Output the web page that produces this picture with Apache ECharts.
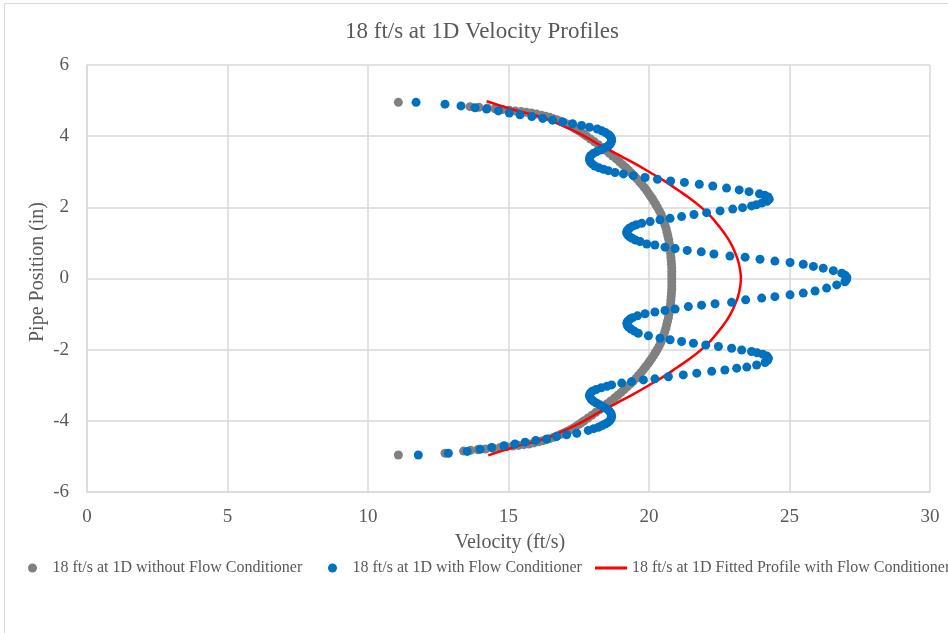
<!DOCTYPE html>
<html>
<head>
<meta charset="utf-8">
<script src="https://cdn.jsdelivr.net/npm/echarts@6/dist/echarts.min.js"></script>
<style>
  html, body { margin: 0; padding: 0; background: #ffffff; }
  #chart { width: 948px; height: 633px; }
</style>
</head>
<body>
<div id="chart"></div>
<script>
// Pipe position (in) and measured velocity (ft/s) without the flow conditioner
const plainPos = [
  4.95, 4.83, 4.81, 4.79, 4.77, 4.75, 4.73, 4.71, 4.69, 4.67, 4.65, 4.62, 4.59, 4.56, 4.53, 4.50,
  4.46, 4.42, 4.38, 4.34, 4.30, 4.25, 4.20, 4.15, 4.10, 4.05, 4.00, 3.92, 3.84, 3.76, 3.68, 3.60,
  3.52, 3.44, 3.36, 3.28, 3.20, 3.12, 3.04, 2.96, 2.88, 2.80, 2.72, 2.64, 2.56, 2.48, 2.40, 2.32,
  2.24, 2.16, 2.08, 2.00, 1.90, 1.80, 1.70, 1.60, 1.50, 1.40, 1.30, 1.20, 1.10, 1.00, 0.90, 0.80,
  0.70, 0.60, 0.50, 0.40, 0.30, 0.20, 0.10, 0.00,
  -0.10, -0.20, -0.30, -0.40, -0.50, -0.60, -0.70, -0.80, -0.90, -1.00, -1.10, -1.20, -1.30, -1.40,
  -1.50, -1.60, -1.70, -1.80, -1.90, -2.00, -2.08, -2.16, -2.24, -2.32, -2.40, -2.48, -2.56, -2.64,
  -2.72, -2.80, -2.88, -2.96, -3.04, -3.12, -3.20, -3.28, -3.36, -3.44, -3.52, -3.60, -3.68, -3.76,
  -3.84, -3.92, -4.00, -4.05, -4.10, -4.15, -4.20, -4.25, -4.30, -4.34, -4.38, -4.42, -4.46, -4.50,
  -4.53, -4.56, -4.59, -4.62, -4.65, -4.67, -4.69, -4.71, -4.73, -4.75, -4.77, -4.79, -4.81, -4.83,
  -4.85, -4.91, -4.96
];
const plainVel = [
  11.08, 13.63, 13.95, 14.25, 14.52, 14.78, 15.02, 15.24, 15.45, 15.64, 15.82, 16.00, 16.17, 16.32, 16.46, 16.58,
  16.72, 16.85, 16.97, 17.08, 17.18, 17.30, 17.40, 17.50, 17.60, 17.69, 17.78, 17.92, 18.06, 18.20, 18.33, 18.46,
  18.59, 18.71, 18.83, 18.95, 19.06, 19.17, 19.28, 19.38, 19.48, 19.57, 19.66, 19.75, 19.83, 19.91, 19.98, 20.05,
  20.12, 20.18, 20.24, 20.30, 20.37, 20.43, 20.48, 20.53, 20.57, 20.61, 20.64, 20.67, 20.70, 20.72, 20.74, 20.76,
  20.77, 20.78, 20.79, 20.80, 20.81, 20.81, 20.81, 20.81,
  20.81, 20.81, 20.81, 20.80, 20.79, 20.78, 20.77, 20.75, 20.73, 20.71, 20.69, 20.66, 20.63, 20.60,
  20.56, 20.52, 20.47, 20.42, 20.36, 20.29, 20.23, 20.17, 20.10, 20.03, 19.96, 19.88, 19.80, 19.72,
  19.63, 19.54, 19.44, 19.34, 19.23, 19.12, 19.01, 18.89, 18.77, 18.64, 18.51, 18.38, 18.25, 18.11,
  17.97, 17.83, 17.69, 17.60, 17.51, 17.41, 17.31, 17.20, 17.08, 16.97, 16.86, 16.74, 16.61, 16.47,
  16.35, 16.22, 16.07, 15.91, 15.73, 15.55, 15.36, 15.15, 14.93, 14.70, 14.45, 14.18, 13.90, 13.65,
  13.40, 12.74, 11.08
];

// Pipe position (in) and measured velocity (ft/s) with the flow conditioner
const condPos = [
  4.95, 4.90, 4.85, 4.80, 4.76, 4.71, 4.65, 4.60, 4.55, 4.50, 4.45, 4.40, 4.35, 4.30, 4.25, 4.20,
  4.15, 4.10, 4.05, 4.00, 3.94, 3.88, 3.82, 3.76, 3.71, 3.66, 3.61, 3.56, 3.51, 3.46, 3.40, 3.34,
  3.28, 3.22, 3.16, 3.11, 3.07, 3.03, 2.98, 2.94, 2.89, 2.84, 2.79, 2.74, 2.70, 2.65, 2.60, 2.54,
  2.49, 2.44, 2.38, 2.34, 2.29, 2.23, 2.17, 2.12, 2.07, 2.04, 1.99, 1.95, 1.90, 1.85, 1.80, 1.74,
  1.69, 1.65, 1.60, 1.55, 1.51, 1.47, 1.42, 1.37, 1.32, 1.27, 1.22, 1.17, 1.13, 1.08, 1.04, 0.97,
  0.94, 0.88, 0.84, 0.79, 0.75, 0.69, 0.63, 0.60, 0.54, 0.49, 0.45, 0.40, 0.34, 0.29, 0.22, 0.15,
  0.09, 0.03, -0.03, -0.09, -0.18, -0.27, -0.35, -0.41, -0.46, -0.51, -0.55, -0.60, -0.67, -0.71,
  -0.75, -0.79, -0.86, -0.90, -0.94, -0.99, -1.05, -1.10, -1.14, -1.20, -1.26, -1.32, -1.37, -1.42,
  -1.48, -1.54, -1.61, -1.68, -1.72, -1.77, -1.82, -1.87, -1.91, -1.96, -2.01, -2.05, -2.09, -2.13,
  -2.18, -2.24, -2.30, -2.36, -2.43, -2.49, -2.52, -2.57, -2.61, -2.66, -2.71, -2.76, -2.82, -2.85,
  -2.90, -2.94, -2.99, -3.03, -3.07, -3.12, -3.17, -3.22, -3.28, -3.34, -3.40, -3.45, -3.50, -3.55,
  -3.60, -3.65, -3.70, -3.76, -3.82, -3.88, -3.94, -4.00, -4.05, -4.09, -4.13, -4.18, -4.22, -4.27,
  -4.35, -4.39, -4.44, -4.51, -4.55, -4.60, -4.65, -4.70, -4.75, -4.80, -4.86, -4.91, -4.96
];
const condVel = [
  11.71, 12.74, 13.31, 13.81, 14.22, 14.64, 15.03, 15.41, 15.83, 16.22, 16.57, 16.93, 17.28, 17.60, 17.88, 18.16,
  18.32, 18.45, 18.55, 18.62, 18.66, 18.67, 18.65, 18.60, 18.52, 18.40, 18.27, 18.13, 18.01, 17.93, 17.89, 17.88,
  17.91, 17.97, 18.07, 18.22, 18.38, 18.55, 18.79, 19.09, 19.44, 19.86, 20.30, 20.77, 21.26, 21.79, 22.27, 22.76,
  23.21, 23.56, 23.93, 24.12, 24.24, 24.28, 24.20, 24.01, 23.82, 23.65, 23.33, 22.98, 22.53, 22.05, 21.60, 21.16,
  20.75, 20.39, 20.04, 19.74, 19.55, 19.42, 19.31, 19.25, 19.21, 19.21, 19.25, 19.31, 19.40, 19.52, 19.68, 19.92,
  20.21, 20.57, 20.93, 21.36, 21.86, 22.31, 22.88, 23.42, 23.95, 24.48, 25.02, 25.49, 25.85, 26.20, 26.56, 26.86,
  26.98, 27.04, 27.03, 26.97, 26.68, 26.32, 25.91, 25.49, 25.02, 24.48, 24.01, 23.44, 22.94, 22.35,
  21.87, 21.40, 20.93, 20.57, 20.21, 19.86, 19.59, 19.42, 19.32, 19.24, 19.21, 19.23, 19.28, 19.36,
  19.48, 19.62, 19.98, 20.39, 20.75, 21.16, 21.58, 22.02, 22.47, 22.94, 23.30, 23.65, 23.85, 24.05,
  24.20, 24.25, 24.22, 24.13, 23.83, 23.48, 23.12, 22.70, 22.23, 21.70, 21.22, 20.69, 20.21, 19.80,
  19.38, 19.03, 18.67, 18.50, 18.30, 18.12, 17.98, 17.91, 17.88, 17.90, 17.95, 18.03, 18.13, 18.25,
  18.36, 18.47, 18.56, 18.62, 18.66, 18.67, 18.65, 18.60, 18.53, 18.44, 18.33, 18.20, 18.03, 17.84,
  17.43, 17.07, 16.71, 16.36, 15.97, 15.59, 15.23, 14.84, 14.40, 13.99, 13.53, 12.86, 11.79
];

// Fitted profile with the flow conditioner
const fitPos = [
  4.98, 4.75, 4.50, 4.25, 4.00, 3.75, 3.50, 3.25, 3.00, 2.75, 2.50, 2.25, 2.00, 1.75, 1.50, 1.25, 1.00, 0.75, 0.50, 0.25,
  0.00, -0.25, -0.50, -0.75, -1.00, -1.25, -1.50, -1.75, -2.00, -2.25, -2.50, -2.75, -3.00, -3.25, -3.50, -3.75, -4.00,
  -4.25, -4.50, -4.75, -4.97
];
const fitVel = [
  14.22, 15.15, 16.30, 17.05, 17.70, 18.25, 18.85, 19.45, 20.00, 20.53, 21.00, 21.46, 21.86, 22.19, 22.46, 22.70, 22.90, 23.05, 23.17, 23.24,
  23.27, 23.24, 23.17, 23.05, 22.90, 22.70, 22.46, 22.19, 21.86, 21.46, 21.00, 20.53, 20.00, 19.45, 18.85, 18.25, 17.70,
  17.05, 16.30, 15.15, 14.28
];

const xTicks = { min: 0, max: 30, step: 5 };
const yTicks = { min: -6, max: 6, step: 2 };

const seriesNames = [
  '18 ft/s at 1D without Flow Conditioner',
  '18 ft/s at 1D with Flow Conditioner',
  '18 ft/s at 1D Fitted Profile with Flow Conditioner'
];

function pairs(vel, pos) {
  return vel.map((v, i) => [v, pos[i]]);
}

const FONT = 'Liberation Serif, Times New Roman, serif';
const TEXT = '#595959';
const GRID = '#d9d9d9';

const chart = echarts.init(document.getElementById('chart'), null, { renderer: 'canvas' });

const legendBase = {
  orient: 'horizontal',
  top: 560,
  padding: 0,
  itemHeight: 9,
  textStyle: { fontFamily: FONT, fontSize: 16, color: TEXT }
};

chart.setOption({
  animation: false,
  backgroundColor: '#ffffff',
  grid: { left: 87, right: 18, top: 65, bottom: 141, containLabel: false },
  xAxis: {
    type: 'value',
    min: xTicks.min, max: xTicks.max, interval: xTicks.step,
    axisLine: { show: true, onZero: false, lineStyle: { color: GRID, width: 1.5 } },
    axisTick: { show: false },
    splitLine: { show: true, lineStyle: { color: GRID, width: 1.5 } },
    axisLabel: { fontFamily: FONT, fontSize: 19, color: TEXT, margin: 16 }
  },
  yAxis: {
    type: 'value',
    min: yTicks.min, max: yTicks.max, interval: yTicks.step,
    axisLine: { show: true, onZero: false, lineStyle: { color: GRID, width: 1.5 } },
    axisTick: { show: false },
    splitLine: { show: true, lineStyle: { color: GRID, width: 1.5 } },
    axisLabel: { fontFamily: FONT, fontSize: 19, color: TEXT, margin: 18 }
  },
  legend: [
    Object.assign({}, legendBase, { left: 28, itemWidth: 30, data: [{ name: seriesNames[0], icon: 'circle' }] }),
    Object.assign({}, legendBase, { left: 328, itemWidth: 30, data: [{ name: seriesNames[1], icon: 'circle' }] }),
    Object.assign({}, legendBase, { left: 595, itemWidth: 32, itemHeight: 3, data: [{ name: seriesNames[2], icon: 'rect' }] })
  ],
  graphic: [
    {
      type: 'rect', silent: true, z: -10,
      shape: { x: 4.5, y: 3.5, width: 970, height: 660 },
      style: { fill: 'none', stroke: GRID, lineWidth: 1 }
    },
    {
      type: 'text', x: 482, y: 32,
      style: { text: '18 ft/s at 1D Velocity Profiles', font: '23px ' + FONT, fill: TEXT, textAlign: 'center', textVerticalAlign: 'middle' }
    },
    {
      type: 'text', x: 510, y: 543,
      style: { text: 'Velocity (ft/s)', font: '20px ' + FONT, fill: TEXT, textAlign: 'center', textVerticalAlign: 'middle' }
    },
    {
      type: 'text', x: 38, y: 272, rotation: Math.PI / 2,
      style: { text: 'Pipe Position (in)', font: '20px ' + FONT, fill: TEXT, textAlign: 'center', textVerticalAlign: 'middle' }
    }
  ],
  series: [
    {
      name: seriesNames[0],
      type: 'scatter',
      symbol: 'circle',
      symbolSize: 9,
      z: 2,
      itemStyle: { color: '#808080', opacity: 1 },
      data: pairs(plainVel, plainPos)
    },
    {
      name: seriesNames[2],
      type: 'line',
      smooth: true,
      symbol: 'none',
      z: 3,
      lineStyle: { color: '#ff0000', width: 2.5 },
      itemStyle: { color: '#ff0000' },
      data: pairs(fitVel, fitPos)
    },
    {
      name: seriesNames[1],
      type: 'scatter',
      symbol: 'circle',
      symbolSize: 9,
      z: 4,
      itemStyle: { color: '#0070c0', opacity: 1 },
      data: pairs(condVel, condPos)
    }
  ]
});
</script>
</body>
</html>
